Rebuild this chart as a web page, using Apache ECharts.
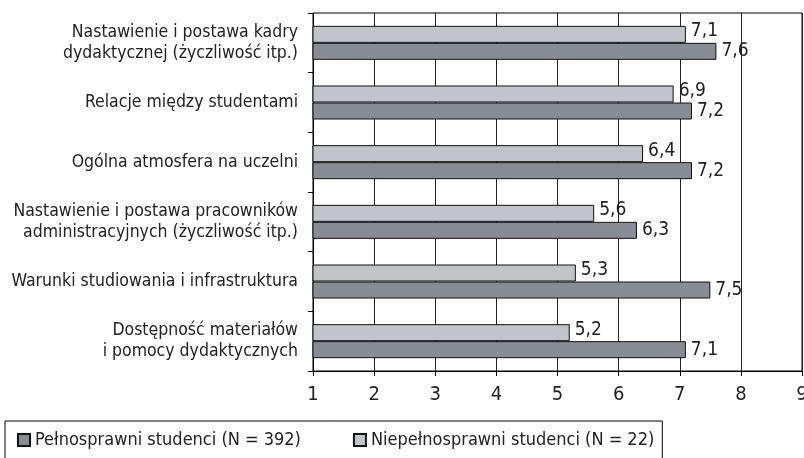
<!DOCTYPE html>
<html><head><meta charset="utf-8">
<script src="https://cdn.jsdelivr.net/npm/echarts@6/dist/echarts.min.js"></script>
<style>html,body{margin:0;padding:0;background:#fff}#c{width:804px;height:458px}</style>
</head><body><div id="c"></div>
<script>
const categories = [
  'Nastawienie i postawa kadry\ndydaktycznej (życzliwość itp.)',
  'Relacje między studentami',
  'Ogólna atmosfera na uczelni',
  'Nastawienie i postawa pracowników\nadministracyjnych (życzliwość itp.)',
  'Warunki studiowania i infrastruktura',
  'Dostępność materiałów\ni pomocy dydaktycznych'
];
const seriesNames = ['Pełnosprawni studenci (N = 392)', 'Niepełnosprawni studenci (N = 22)'];
const fullyAble = [7.6, 7.2, 7.2, 6.3, 7.5, 7.1];
const disabled = [7.1, 6.9, 6.4, 5.6, 5.3, 5.2];
const xTicks = [1, 2, 3, 4, 5, 6, 7, 8, 9];

const FONT = '"Liberation Sans Narrow", "DejaVu Sans Condensed", "Liberation Sans", sans-serif';
const fmt = p => String(p.value).replace('.', ',');

const chart = echarts.init(document.getElementById('c'), null, {renderer: 'canvas'});
chart.setOption({
  animation: false,
  backgroundColor: '#fff',
  textStyle: {fontFamily: FONT},
  grid: {left: 313, top: 13, right: 2, bottom: 87, show: true, borderColor: '#000', borderWidth: 1,
    containLabel: false, outerBoundsMode: 'none'},
  legend: {
    data: seriesNames,
    left: 5, top: 421,
    orient: 'horizontal',
    padding: [10, 8, 30, 12],
    borderColor: '#000', borderWidth: 1,
    itemGap: 52,
    itemWidth: 12, itemHeight: 12,
    icon: 'rect',
    textStyle: {fontFamily: FONT, fontSize: 18, color: '#222'}
  },
  xAxis: {
    type: 'value', min: xTicks[0], max: xTicks[xTicks.length - 1], interval: 1,
    axisLine: {show: true, lineStyle: {color: '#000', width: 1}},
    axisTick: {show: true, length: 5, lineStyle: {color: '#000'}},
    axisLabel: {fontFamily: FONT, fontSize: 20, color: '#222', margin: 14, showMaxLabel: true,
      hideOverlap: false, formatter: v => String(v)},
    splitLine: {show: true, lineStyle: {color: '#222', width: 1}}
  },
  yAxis: {
    type: 'category', data: categories, inverse: true,
    axisLine: {show: true, lineStyle: {color: '#000', width: 1}},
    axisTick: {show: true, length: 5, lineStyle: {color: '#000'}},
    axisLabel: {fontFamily: FONT, fontSize: 17.5, color: '#222', lineHeight: 21, margin: 15, align: 'right'},
    splitLine: {show: false}
  },
  series: [
    {
      name: seriesNames[1], type: 'bar', data: disabled,
      barWidth: 17, barGap: '0%',
      itemStyle: {color: '#c1c4c9', borderColor: '#111', borderWidth: 1},
      label: {show: true, position: 'right', distance: 5, offset: [0, -3], formatter: fmt,
        fontFamily: FONT, fontSize: 19, color: '#222'}
    },
    {
      name: seriesNames[0], type: 'bar', data: fullyAble,
      barWidth: 17, barGap: '0%',
      itemStyle: {color: '#878d94', borderColor: '#111', borderWidth: 1},
      label: {show: true, position: 'right', distance: 5, formatter: fmt,
        fontFamily: FONT, fontSize: 19, color: '#222'}
    }
  ]
});
</script></body></html>
